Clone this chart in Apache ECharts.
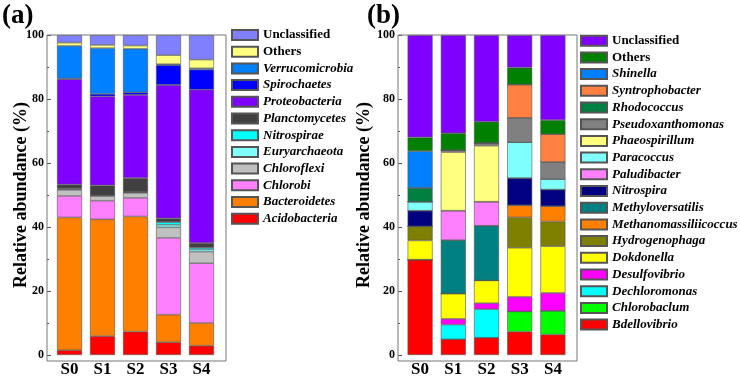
<!DOCTYPE html>
<html>
<head>
<meta charset="utf-8">
<script src="https://cdn.jsdelivr.net/npm/echarts@6/dist/echarts.min.js"></script>
<style>html,body{margin:0;padding:0;background:#fff}#c{width:740px;height:378px}</style>
</head>
<body>
<div id="c"></div>
<script>
// ---------- data ----------
const categories = ['S0', 'S1', 'S2', 'S3', 'S4'];
const yTicks = [0, 20, 40, 60, 80, 100];

// Panel (a) - phylum level (stack order bottom -> top)
const aAcidobacteria    = [1.5, 5.9, 7.3, 4.0, 2.9];
const aBacteroidetes    = [41.5, 36.5, 36.0, 8.6, 7.1];
const aChlorobi         = [6.7, 5.8, 5.8, 24.0, 18.7];
const aChloroflexi      = [1.9, 1.5, 1.6, 3.3, 3.6];
const aEuryarchaeota    = [0.2, 0.1, 0.1, 0.8, 0.7];
const aNitrospirae      = [0.2, 0.1, 0.1, 0.8, 0.5];
const aPlanctomycetes   = [1.3, 3.1, 4.4, 1.2, 1.5];
const aProteobacteria   = [32.9, 27.8, 26.0, 41.7, 47.9];
const aSpirochaetes     = [0.2, 0.8, 0.8, 6.2, 6.3];
const aVerrucomicrobia  = [10.2, 14.3, 13.6, 0.3, 0.4];
const aOthers           = [1.0, 1.0, 1.0, 2.8, 2.7];
const aUnclassified     = [2.4, 3.1, 3.3, 6.3, 7.7];

// Panel (b) - genus level (stack order bottom -> top)
const bBdellovibrio          = [29.8, 4.9, 5.4, 7.3, 6.4];
const bChlorobaculum         = [0, 0, 0, 6.3, 7.4];
const bDechloromonas         = [0, 4.6, 8.9, 0, 0];
const bDesulfovibrio         = [0, 1.8, 1.9, 4.6, 5.6];
const bDokdonella            = [6.0, 7.9, 7.1, 15.3, 14.6];
const bHydrogenophaga        = [4.4, 0, 0, 9.5, 7.7];
const bMethanomassiliicoccus = [0, 0, 0, 3.8, 4.8];
const bMethyloversatilis     = [0, 16.7, 17.1, 0, 0];
const bNitrospira            = [4.9, 0, 0, 8.5, 5.2];
const bPaludibacter          = [0, 9.2, 7.5, 0, 0];
const bParacoccus            = [2.8, 0, 0, 11.2, 3.3];
const bPhaeospirillum        = [0, 18.3, 17.5, 0, 0];
const bPseudoxanthomonas     = [0, 0.6, 0.9, 7.6, 5.3];
const bRhodococcus           = [4.3, 0, 0, 0, 0];
const bSyntrophobacter       = [0, 0, 0, 10.4, 8.7];
const bShinella              = [11.5, 0, 0, 0, 0];
const bOthers                = [4.3, 5.3, 6.6, 5.3, 4.4];
const bUnclassified          = [32.0, 30.7, 27.1, 10.2, 26.6];

// ---------- series definitions (name, colour, values) ----------
const seriesA = [
  ['Acidobacteria', '#FF0000', aAcidobacteria],
  ['Bacteroidetes', '#FF8000', aBacteroidetes],
  ['Chlorobi', '#FF80FF', aChlorobi],
  ['Chloroflexi', '#C0C0C0', aChloroflexi],
  ['Euryarchaeota', '#80FFFF', aEuryarchaeota],
  ['Nitrospirae', '#00FFFF', aNitrospirae],
  ['Planctomycetes', '#404040', aPlanctomycetes],
  ['Proteobacteria', '#8000FF', aProteobacteria],
  ['Spirochaetes', '#0000FF', aSpirochaetes],
  ['Verrucomicrobia', '#0080FF', aVerrucomicrobia],
  ['Others', '#FFFF80', aOthers],
  ['Unclassified', '#8080FF', aUnclassified]
];
const seriesB = [
  ['Bdellovibrio', '#FF0000', bBdellovibrio],
  ['Chlorobaclum', '#00FF00', bChlorobaculum],
  ['Dechloromonas', '#00FFFF', bDechloromonas],
  ['Desulfovibrio', '#FF00FF', bDesulfovibrio],
  ['Dokdonella', '#FFFF00', bDokdonella],
  ['Hydrogenophaga', '#808000', bHydrogenophaga],
  ['Methanomassiliicoccus', '#FF8000', bMethanomassiliicoccus],
  ['Methyloversatilis', '#008080', bMethyloversatilis],
  ['Nitrospira', '#000080', bNitrospira],
  ['Paludibacter', '#FF80FF', bPaludibacter],
  ['Paracoccus', '#80FFFF', bParacoccus],
  ['Phaeospirillum', '#FFFF80', bPhaeospirillum],
  ['Pseudoxanthomonas', '#808080', bPseudoxanthomonas],
  ['Rhodococcus', '#008040', bRhodococcus],
  ['Syntrophobacter', '#FF8040', bSyntrophobacter],
  ['Shinella', '#0080FF', bShinella],
  ['Others', '#008000', bOthers],
  ['Unclassified', '#8000FF', bUnclassified]
];
const plain = new Set(['Others', 'Unclassified']);

const FONT = '"Liberation Serif", "Times New Roman", serif';

function mkSeries(list, prefix, idx) {
  return list.map(([name, color, vals]) => ({
    name: prefix + name,
    type: 'bar',
    stack: prefix,
    xAxisIndex: idx,
    yAxisIndex: idx,
    barWidth: 25,
    data: vals,
    itemStyle: { color: color, borderColor: '#555', borderWidth: 0.6 },
    emphasis: { disabled: true }
  }));
}

function mkLegend(list, prefix, left, top) {
  return {
    data: list.slice().reverse().map(d => prefix + d[0]),
    orient: 'vertical',
    left: left,
    top: top,
    padding: 0,
    itemWidth: 26,
    itemHeight: 10,
    itemGap: 3.7,
    selectedMode: false,
    icon: 'rect',
    formatter: function (n) {
      const s = n.slice(2);
      return plain.has(s) ? '{n|' + s + '}' : '{i|' + s + '}';
    },
    textStyle: {
      fontFamily: FONT, fontSize: 13, fontWeight: 'bold', color: '#000', lineHeight: 13,
      rich: {
        n: { fontFamily: FONT, fontSize: 13, fontWeight: 'bold', color: '#000', lineHeight: 13 },
        i: { fontFamily: FONT, fontSize: 13, fontWeight: 'bold', fontStyle: 'italic', color: '#000', lineHeight: 13 }
      }
    }
  };
}

function mkYAxis(idx, offset, gap) {
  return {
    type: 'value', gridIndex: idx, min: 0, max: 100, interval: 20, offset: offset,
    name: 'Relative abundance (%)', nameLocation: 'middle', nameGap: gap,
    nameMoveOverlap: false,
    nameTextStyle: { fontFamily: FONT, fontSize: 18, fontWeight: 'bold', color: '#000' },
    axisLine: { show: false },
    axisTick: { show: true, inside: true, length: 4, lineStyle: { color: '#555' } },
    minorTick: { show: true, splitNumber: 2, length: 2, lineStyle: { color: '#555' } },
    splitLine: { show: false },
    axisLabel: {
      margin: 3, fontFamily: FONT, fontSize: 12, fontWeight: 'bold', color: '#000',
      formatter: v => (yTicks.indexOf(v) >= 0 ? String(v) : '')
    }
  };
}

function mkXAxis(idx) {
  return {
    type: 'category', gridIndex: idx, data: categories,
    axisLine: { show: false }, axisTick: { show: false },
    axisLabel: { margin: 6, fontFamily: FONT, fontSize: 17, fontWeight: 'bold', color: '#000' }
  };
}

const chart = echarts.init(document.getElementById('c'), null, { renderer: 'canvas' });
chart.setOption({
  animation: false,
  backgroundColor: '#fff',
  title: [
    { text: '(a)', left: 2, top: 3, padding: 0, textStyle: { fontFamily: FONT, fontSize: 27, fontWeight: 'bold', color: '#000' } },
    { text: '(b)', left: 367, top: 3, padding: 0, textStyle: { fontFamily: FONT, fontSize: 27, fontWeight: 'bold', color: '#000' } }
  ],
  grid: [
    { left: 53, top: 35, width: 165, height: 326 },
    { left: 403.5, top: 35, width: 166, height: 326 }
  ],
  xAxis: [mkXAxis(0), mkXAxis(1)],
  yAxis: [mkYAxis(0, 6, 17), mkYAxis(1, 5.5, 25)],
  legend: [mkLegend(seriesA, 'a|', 231, 28.5), mkLegend(seriesB, 'b|', 580, 34.2)],
  graphic: [
    { type: 'rect', shape: { x: 47, y: 35, width: 179, height: 326 }, style: { fill: 'none', stroke: '#777', lineWidth: 1 }, z: 100, silent: true },
    { type: 'rect', shape: { x: 398, y: 35, width: 179, height: 326 }, style: { fill: 'none', stroke: '#777', lineWidth: 1 }, z: 100, silent: true }
  ],
  series: mkSeries(seriesA, 'a|', 0).concat(mkSeries(seriesB, 'b|', 1))
});
</script>
</body>
</html>
